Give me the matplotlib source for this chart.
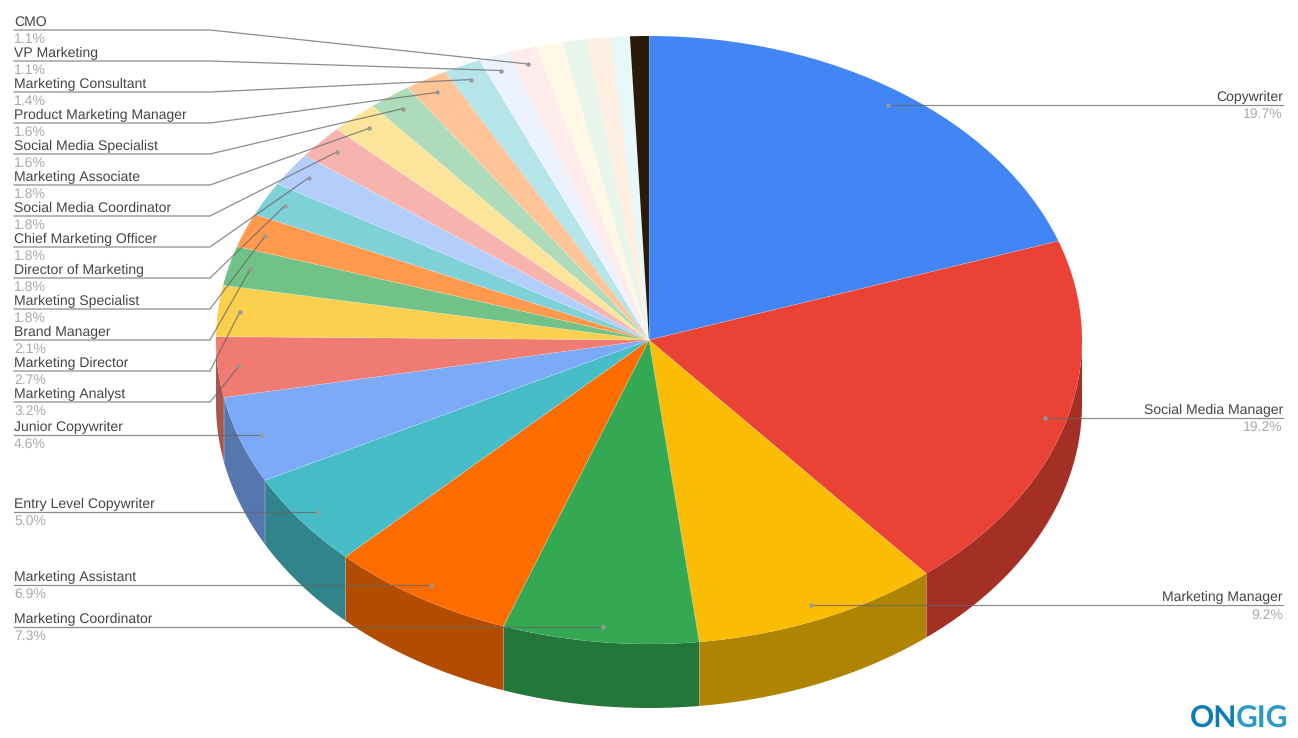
import numpy as np
import matplotlib
matplotlib.use("Agg")
import matplotlib.pyplot as plt

plt.rcParams['font.family'] = ['Liberation Sans', 'DejaVu Sans']
plt.rcParams['text.hinting'] = 'no_hinting'
plt.rcParams['text.hinting_factor'] = 1

# clockwise from 12 o'clock, last five slices have no label on the chart
labels = ["Copywriter", "Social Media Manager", "Marketing Manager", "Marketing Coordinator",
          "Marketing Assistant", "Entry Level Copywriter", "Junior Copywriter", "Marketing Analyst",
          "Marketing Director", "Brand Manager", "Marketing Specialist", "Director of Marketing",
          "Chief Marketing Officer", "Social Media Coordinator", "Marketing Associate",
          "Social Media Specialist", "Product Marketing Manager", "Marketing Consultant",
          "VP Marketing", "CMO", "", "", "", "", ""]
values = [19.7, 19.2, 9.2, 7.3, 6.9, 5.0, 4.6, 3.2, 2.7, 2.1, 1.8, 1.8, 1.8, 1.8, 1.8,
          1.6, 1.6, 1.4, 1.1, 1.1, 1.0, 0.9, 0.9, 0.7, 0.7]
colors = ["#4285f4", "#ea4335", "#fbbc04", "#34a853", "#ff6d01", "#46bdc6", "#7baaf7", "#f07b72",
          "#fcd04f", "#71c287", "#ff994d", "#7ed1d7", "#b3cefb", "#f7b4ae", "#fde49b", "#aedcba",
          "#ffc599", "#b5e5e8", "#ecf3fe", "#fdeceb", "#fff8e6", "#e8f5eb", "#ffeee2", "#e8f7f8",
          "#2a1a08"]

W, H = 1298, 738
cx, cy, rx, ry = 649, 340, 433, 304
depth = 64 / ry

fig = plt.figure(figsize=(W / 100, H / 100), dpi=100)

# the pie axes are stretched so the unit circle comes out as the flattened ellipse
ax = fig.add_axes([(cx - rx) / W, 1 - (cy + ry) / H, 2 * rx / W, 2 * ry / H])
ax.pie(values, colors=colors, startangle=90, counterclock=False, radius=1,
       wedgeprops={"linewidth": 0})
ax.set_aspect("auto")
ax.set_xlim(-1, 1)
ax.set_ylim(-1, 1)

edges = np.concatenate([[0], np.cumsum(values)]) / np.sum(values) * 2 * np.pi
mids = (edges[:-1] + edges[1:]) / 2


def darker(col, f=0.7):
    return tuple(c * f for c in matplotlib.colors.to_rgb(col))


# side wall, only the front half of the ellipse can be seen
for i in range(len(values)):
    a = max(edges[i], np.pi / 2)
    b = min(edges[i + 1], 3 * np.pi / 2)
    if b <= a:
        continue
    t = np.linspace(a, b, 60)
    xs = np.concatenate([np.sin(t), np.sin(t[::-1])])
    ys = np.concatenate([np.cos(t), np.cos(t[::-1]) - depth])
    ax.fill(xs, ys, color=darker(colors[i]), linewidth=0, zorder=0.5, clip_on=False)
    if b < 3 * np.pi / 2:
        ax.plot([np.sin(b), np.sin(b)], [np.cos(b), np.cos(b) - depth], color="#ffffff",
                alpha=0.2, lw=0.6, zorder=0.6, clip_on=False)

# faint light seams between the top slices
for e in edges[:17]:
    ax.plot([0, np.sin(e)], [0, np.cos(e)], color="#ffffff", alpha=0.3, lw=0.5, zorder=2)

# overlay in pixel coordinates for the leader lines and texts
over = fig.add_axes([0, 0, 1, 1], zorder=5)
over.patch.set_visible(False)
over.axis("off")
over.set_xlim(0, W)
over.set_ylim(H, 0)

LINE = "#666666"
NAME = "#444444"
PCT = "#aaaaaa"
FS = 10.1


def anchor(i):
    return cx + 0.95 * rx * np.sin(mids[i]), cy - 0.95 * ry * np.cos(mids[i])


def leader(i, line_y, right):
    ax_x, ax_y = anchor(i)
    if right:
        xs, ha, tx = [1283, ax_x], "right", 1283
    else:
        xs, ha, tx = [14, 210, ax_x], "left", 14
    ys = [line_y] * (len(xs) - 1) + [ax_y]
    over.plot(xs, ys, color=LINE, lw=0.9, alpha=0.75, solid_joinstyle="miter")
    over.plot([ax_x], [ax_y], "o", color="#999999", ms=3.2, mew=0)
    over.text(tx, line_y - 4, labels[i], ha=ha, va="baseline", color=NAME, fontsize=FS)
    over.text(tx, line_y + 13, "%.1f%%" % values[i], ha=ha, va="baseline", color=PCT, fontsize=FS)


for i in range(3):
    leader(i, anchor(i)[1], True)

# left column: top labels are stacked evenly, the four lowest sit level with their anchor
row = 0
for i in range(19, 2, -1):
    if i >= 7:
        leader(i, 30 + 31 * row, False)
    else:
        leader(i, anchor(i)[1], False)
    row += 1

over.text(1190, 727.5, "ON", color="#0e7db5", fontsize=21.8, fontweight="bold",
          family=["Lato", "DejaVu Sans"], ha="left", va="baseline")
over.text(1288, 727.5, "GIG", color="#2b9acb", fontsize=21.8, fontweight="bold",
          family=["Lato", "DejaVu Sans"], ha="right", va="baseline")

fig.savefig("out.png", dpi=100)
